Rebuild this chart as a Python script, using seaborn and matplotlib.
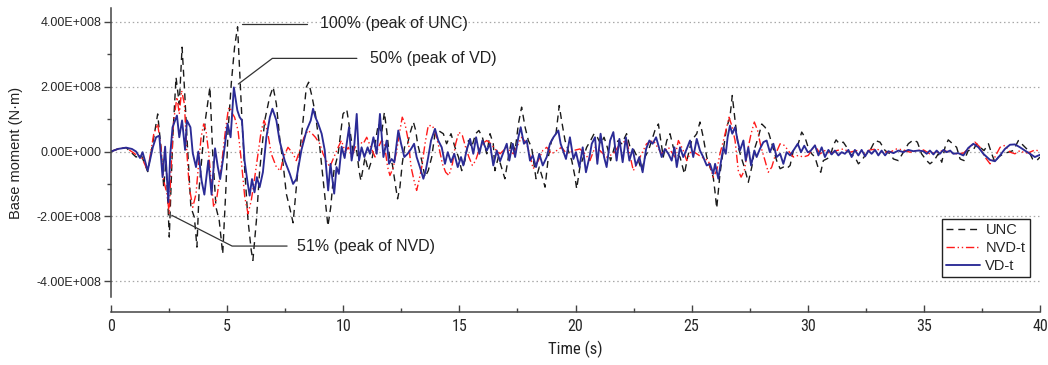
import matplotlib
matplotlib.use("Agg")
import numpy as np
import pandas as pd
import matplotlib.pyplot as plt
import seaborn as sns
from matplotlib.ticker import FuncFormatter, MultipleLocator
from matplotlib import font_manager

# ---------------- data (base moment in units of 1e8 N·m) ----------------
unc_t = [0.0, 0.3, 0.65, 1.08, 1.3, 1.58, 1.87, 2.01, 2.15, 2.27, 2.37, 2.51, 2.66, 2.8, 2.94, 3.06, 3.16, 3.27,
         3.44, 3.59, 3.7, 3.8, 3.95, 4.06, 4.16, 4.26, 4.38, 4.52, 4.66, 4.81, 4.95, 5.04, 5.18, 5.32, 5.45, 5.54,
         5.64, 5.76, 5.9, 6.04, 6.11, 6.26, 6.4, 6.62, 6.83, 6.98, 7.12, 7.26, 7.41, 7.55, 7.69, 7.84, 7.98, 8.12,
         8.27, 8.41, 8.51, 8.66, 8.8, 8.99, 9.2, 9.34, 9.46, 9.6, 9.78, 9.99, 10.15, 10.29, 10.43, 10.58, 10.68,
         10.76, 10.94, 11.08, 11.22, 11.37, 11.51, 11.65, 11.77, 11.87, 12.01, 12.11, 12.26, 12.34, 12.44, 12.54,
         12.66, 12.77, 12.87, 13.02, 13.12, 13.2, 13.38, 13.52, 13.66, 13.81, 13.95, 14.09, 14.31, 14.45, 14.64,
         14.81, 14.96, 15.1, 15.24, 15.39, 15.53, 15.7, 15.84, 15.99, 16.18, 16.32, 16.46, 16.53, 16.68, 16.82,
         16.96, 17.11, 17.25, 17.4, 17.54, 17.68, 17.83, 17.97, 18.11, 18.3, 18.44, 18.59, 18.69, 18.83, 18.97,
         19.16, 19.3, 19.4, 19.55, 19.69, 19.84, 19.98, 20.05, 20.19, 20.34, 20.48, 20.65, 20.8, 20.94, 21.08,
         21.23, 21.37, 21.51, 21.7, 21.84, 21.99, 22.2, 22.35, 22.49, 22.66, 22.85, 22.99, 23.14, 23.28, 23.42,
         23.57, 23.66, 23.78, 23.93, 24.07, 24.21, 24.36, 24.5, 24.69, 24.83, 25.0, 25.22, 25.36, 25.5, 25.65,
         25.79, 25.93, 26.0, 26.08, 26.22, 26.37, 26.51, 26.65, 26.75, 26.87, 27.01, 27.13, 27.27, 27.44, 27.59,
         27.73, 27.87, 28.02, 28.16, 28.33, 28.52, 28.66, 28.81, 28.95, 29.09, 29.24, 29.38, 29.59, 29.74, 29.88,
         30.03, 30.17, 30.31, 30.46, 30.56, 30.67, 30.81, 30.96, 31.1, 31.22, 31.36, 31.53, 31.68, 31.82, 32.03,
         32.18, 32.32, 32.47, 32.68, 32.9, 33.11, 33.33, 33.54, 33.69, 33.9, 34.12, 34.33, 34.55, 34.72, 34.9,
         35.12, 35.26, 35.44, 35.62, 35.77, 35.91, 36.05, 36.24, 36.41, 36.56, 36.73, 36.91, 37.13, 37.27, 37.42,
         37.59, 37.78, 37.92, 38.06, 38.21, 38.42, 38.64, 38.85, 39.07, 39.28, 39.5, 39.68, 39.86, 40.0]
unc_v = [0.0, 0.08, 0.12, -0.17, -0.1, -0.62, 0.55, 1.16, 0.13, -1.1, -0.28, -2.64, 0.44, 2.29, 1.46, 3.22, 1.99,
         0.44, -1.72, -2.03, -2.95, -1.1, 0.13, 0.96, 1.47, 1.99, -0.07, -1.72, -2.13, -3.16, -1.1, 0.65, 2.11, 3.22,
         3.85, 2.5, 0.96, -0.59, -2.13, -3.06, -3.36, -2.13, -0.59, 0.96, 1.68, 1.99, 1.47, 0.44, -0.38, -1.31,
         -1.72, -2.2, -1.1, -0.07, 0.96, 1.99, 2.14, 1.68, 1.16, 0.13, -1.31, -2.3, -1.72, -0.59, -0.07, 1.16, 1.3,
         0.65, -0.07, 0.03, -0.59, -0.9, -0.17, -0.59, -0.28, 0.24, 0.85, 0.55, 1.21, 0.65, -0.28, -0.38, -1.1,
         -1.46, -1.1, -0.38, 0.24, 0.24, 0.55, 0.91, 0.65, 0.24, -0.28, -0.79, -0.59, -0.17, 0.55, 0.65, 0.55,
         0.24, 0.55, 0.13, -0.17, -0.59, -0.28, 0.34, 0.13, 0.55, 0.65, 0.44, -0.07, 0.55, 0.24, -0.59, -0.17,
         -0.5, -0.84, -0.17, 0.34, 0.03, 0.85, 1.37, 0.75, 0.34, 0.13, -0.84, -0.48, -0.84, -1.1, -0.17, 0.34,
         0.55, 1.42, 0.96, 0.34, 0.03, -0.28, -0.79, -1.15, -0.48, -0.17, 0.13, 0.34, 0.55, 0.44, 0.24, 0.44,
         0.13, -0.28, 0.19, 0.34, 0.24, 0.55, 0.13, 0.08, -0.17, -0.59, -0.17, 0.03, 0.34, 0.65, 0.85, 0.39,
         -0.17, 0.34, 0.55, 0.13, -0.07, -0.17, -0.69, -0.17, 0.34, 0.55, 0.91, 0.44, -0.17, -0.48, -0.79, -1.2,
         -1.75, -0.69, 0.08, 0.75, 1.06, 1.73, 0.96, 0.13, -0.17, -0.48, -0.95, -0.48, 0.13, 0.44, 0.85, 0.75,
         0.55, 0.08, -0.28, -0.53, -0.48, -0.53, -0.43, 0.03, 0.24, 0.6, 0.44, 0.1, -0.07, -0.17, -0.53, -0.64,
         -0.28, -0.23, -0.17, 0.19, 0.36, 0.24, 0.29, 0.13, -0.07, -0.17, -0.38, -0.28, -0.12, 0.03, 0.34, 0.29,
         0.03, -0.07, -0.23, -0.28, -0.02, 0.24, 0.36, 0.29, -0.07, -0.28, -0.38, -0.28, -0.07, -0.33, 0.13, 0.36,
         0.24, 0.13, -0.23, -0.28, 0.03, 0.05, 0.24, 0.13, 0.03, 0.24, -0.07, -0.33, -0.17, -0.07, -0.02, 0.03,
         0.34, 0.19, 0.03, -0.23, -0.28, -0.17]

nvd_t = [0.0, 0.3, 0.65, 1.08, 1.3, 1.58, 1.84, 2.01, 2.15, 2.27, 2.41, 2.51, 2.58, 2.7, 2.84, 2.94, 3.04, 3.16,
         3.27, 3.37, 3.52, 3.66, 3.76, 3.88, 3.99, 4.09, 4.21, 4.31, 4.42, 4.56, 4.66, 4.78, 4.91, 5.05, 5.12,
         5.2, 5.32, 5.47, 5.61, 5.76, 5.9, 6.04, 6.19, 6.33, 6.47, 6.59, 6.73, 6.9, 7.12, 7.3, 7.41, 7.62, 7.84,
         7.98, 8.12, 8.31, 8.48, 8.66, 8.8, 8.99, 9.13, 9.27, 9.42, 9.6, 9.78, 9.92, 10.08, 10.22, 10.36, 10.51,
         10.72, 10.86, 11.01, 11.19, 11.37, 11.51, 11.65, 11.77, 11.91, 12.01, 12.16, 12.3, 12.44, 12.54, 12.66,
         12.8, 12.92, 13.05, 13.16, 13.26, 13.38, 13.52, 13.66, 13.84, 13.98, 14.12, 14.27, 14.41, 14.55, 14.7,
         14.84, 14.98, 15.13, 15.27, 15.41, 15.56, 15.7, 15.84, 15.99, 16.18, 16.36, 16.53, 16.75, 17.04, 17.32,
         17.68, 17.9, 18.18, 18.4, 18.59, 18.76, 18.97, 19.19, 19.4, 19.62, 19.91, 20.19, 20.41, 20.62, 20.84,
         21.05, 21.34, 21.63, 21.92, 22.2, 22.49, 22.78, 23.06, 23.35, 23.71, 24.0, 24.28, 24.43, 24.64, 24.79,
         25.0, 25.22, 25.43, 25.72, 25.93, 26.08, 26.22, 26.37, 26.51, 26.61, 26.75, 26.87, 27.01, 27.13, 27.27,
         27.41, 27.56, 27.7, 27.84, 27.99, 28.16, 28.3, 28.45, 28.62, 28.81, 28.99, 29.16, 29.38, 29.59, 29.81,
         30.02, 30.31, 30.53, 30.74, 30.96, 31.25, 31.53, 31.82, 32.11, 32.39, 32.68, 32.97, 33.25, 33.54, 33.83,
         34.12, 34.4, 34.69, 34.98, 35.26, 35.55, 35.84, 36.13, 36.41, 36.7, 36.99, 37.2, 37.42, 37.63, 37.85,
         38.06, 38.28, 38.49, 38.71, 38.92, 39.14, 39.35, 39.57, 39.78, 40.0]
nvd_v = [0.0, 0.08, 0.12, -0.1, -0.15, -0.59, 0.54, 0.85, 0.13, -0.9, -1.31, -1.93, -0.59, 0.96, 1.68, 1.16, 1.88,
         1.47, -0.07, -1.1, -1.72, -1.31, -0.48, 0.44, 0.85, 0.65, -0.07, -0.9, -1.72, -1.41, -0.9, -0.28, 0.55,
         1.3, 1.37, 1.2, 1.06, 0.65, -0.28, -1.41, -1.92, -1.51, -0.79, -0.07, 0.65, 0.96, 0.65, -0.07, -0.48,
         -0.6, -0.2, 0.13, -0.07, -0.28, 0.03, 0.44, 0.65, 0.55, 0.44, 0.24, -0.07, -0.28, -0.48, -0.17, 0.13,
         0.34, 0.0, 0.13, -0.17, 0.13, 0.29, 0.24, 0.44, 0.13, -0.17, 0.13, 0.34, 0.24, -0.48, -0.74, -0.48, 0.03,
         0.65, 1.06, 0.85, 0.34, -0.48, -0.9, -1.2, -0.9, -0.48, 0.24, 0.8, 0.8, 0.55, 0.13, -0.38, -0.64, -0.74,
         -0.38, 0.24, 0.6, 0.49, 0.13, -0.17, -0.43, -0.28, 0.03, 0.24, 0.34, 0.24, 0.08, -0.07, 0.13, -0.07, 0.44,
         0.24, -0.53, -0.28, 0.03, 0.13, -0.07, 0.03, 0.13, -0.07, 0.03, 0.08, -0.07, -0.28, 0.13, 0.03, -0.17,
         -0.07, 0.24, 0.34, -0.59, -0.17, 0.24, 0.34, -0.07, 0.13, -0.17, 0.34, 0.03, -0.28, 0.03, -0.07, -0.17,
         -0.28, -0.79, -0.59, -0.07, 0.34, 0.75, 1.06, 0.75, 0.34, -0.59, -0.79, -0.59, 0.03, 0.55, 0.91, 0.65,
         0.13, -0.28, -0.64, -0.48, -0.07, 0.24, 0.19, 0.03, -0.17, -0.12, -0.17, -0.12, 0.19, -0.07, 0.03, -0.07,
         0.03, 0.08, -0.02, 0.03, -0.07, 0.05, 0.08, -0.02, -0.02, 0.08, 0.05, -0.02, 0.03, 0.05, -0.07, -0.02,
         0.03, -0.02, -0.07, -0.05, 0.13, 0.29, 0.13, -0.17, -0.38, -0.17, 0.13, 0.19, -0.02, -0.07, 0.03, -0.05,
         -0.02, 0.05, 0.01]

vd_t = [0.0, 0.3, 0.65, 0.9, 1.08, 1.25, 1.36, 1.58, 1.8, 1.94, 2.08, 2.22, 2.33, 2.47, 2.55, 2.65, 2.84, 2.94,
        3.06, 3.19, 3.27, 3.42, 3.52, 3.66, 3.76, 3.9, 4.02, 4.19, 4.33, 4.48, 4.6, 4.7, 4.85, 5.02, 5.15, 5.29,
        5.44, 5.54, 5.64, 5.75, 5.87, 5.97, 6.07, 6.18, 6.28, 6.4, 6.54, 6.69, 6.84, 6.95, 7.12, 7.26, 7.48, 7.7,
        7.84, 7.98, 8.2, 8.42, 8.6, 8.7, 8.8, 8.92, 9.07, 9.2, 9.35, 9.45, 9.54, 9.61, 9.71, 9.81, 9.93, 10.06,
        10.25, 10.36, 10.48, 10.58, 10.68, 10.79, 10.91, 11.05, 11.15, 11.3, 11.44, 11.58, 11.73, 11.87, 11.97,
        12.08, 12.2, 12.37, 12.49, 12.63, 12.77, 12.92, 13.05, 13.16, 13.3, 13.45, 13.55, 13.66, 13.78, 13.95,
        14.09, 14.24, 14.38, 14.5, 14.64, 14.78, 14.93, 15.07, 15.17, 15.31, 15.46, 15.6, 15.72, 15.86, 15.99,
        16.18, 16.32, 16.46, 16.61, 16.75, 17.04, 17.15, 17.29, 17.4, 17.54, 17.64, 17.78, 17.9, 18.04, 18.16,
        18.3, 18.44, 18.59, 18.76, 18.9, 19.05, 19.26, 19.36, 19.59, 19.76, 19.91, 20.02, 20.17, 20.31, 20.45,
        20.6, 20.7, 20.84, 20.94, 21.08, 21.23, 21.34, 21.49, 21.63, 21.77, 21.89, 22.03, 22.17, 22.32, 22.46,
        22.6, 22.75, 22.89, 23.04, 23.18, 23.32, 23.47, 23.71, 23.85, 24.0, 24.14, 24.26, 24.36, 24.5, 24.64,
        24.79, 24.93, 25.07, 25.22, 25.36, 25.5, 25.65, 25.79, 25.93, 26.01, 26.15, 26.27, 26.37, 26.47, 26.55,
        26.65, 26.75, 26.87, 26.98, 27.08, 27.23, 27.33, 27.44, 27.56, 27.7, 27.8, 27.94, 28.09, 28.23, 28.37,
        28.52, 28.66, 28.81, 28.95, 29.09, 29.24, 29.38, 29.57, 29.71, 29.85, 30.0, 30.1, 30.31, 30.46, 30.6,
        30.74, 30.89, 31.03, 31.17, 31.32, 31.46, 31.6, 31.75, 31.89, 32.03, 32.18, 32.32, 32.47, 32.61, 32.75,
        32.9, 33.04, 33.18, 33.33, 33.47, 33.69, 33.9, 34.12, 34.33, 34.55, 34.76, 34.98, 35.12, 35.26, 35.41,
        35.55, 35.69, 35.84, 35.98, 36.13, 36.27, 36.48, 36.7, 36.91, 37.13, 37.35, 37.56, 37.85, 38.06, 38.28,
        38.49, 38.71, 38.92, 39.14, 39.35, 39.57, 39.78, 40.0]
vd_v = [0.0, 0.08, 0.12, 0.08, 0.0, -0.2, -0.02, -0.59, 0.13, 0.44, 0.49, -0.79, 0.15, -1.56, -0.1, 0.75, 1.11,
        0.44, 0.96, 0.05, 0.96, 0.75, -0.05, -0.48, 0.0, -0.9, -1.33, -0.28, -1.33, 0.1, -0.48, -0.85, -0.1, 0.86,
        0.44, 1.98, 1.27, 1.06, 0.96, -0.28, -0.9, -1.36, -0.85, -1.26, -0.79, -1.1, -0.64, 0.44, 1.06, 1.32,
        0.96, 0.33, -0.28, -0.69, -1.0, -0.85, 0.05, 0.65, 0.96, 1.32, 1.06, 0.86, 0.55, 0.05, -1.2, -0.38, -0.9,
        -1.3, -0.48, -0.69, 0.15, -0.2, 0.75, -0.28, 0.24, 1.16, -0.28, 0.13, -0.17, 0.13, -0.07, 0.44, -0.07,
        1.16, -0.17, 0.34, -0.38, -0.23, -0.33, 0.65, 0.24, -0.17, -0.07, 0.08, 0.24, -0.17, -0.48, -0.84, -0.59,
        -0.17, 0.34, 0.7, 0.34, 0.13, -0.38, -0.02, -0.33, -0.07, -0.48, -0.17, -0.43, 0.03, 0.39, -0.07, 0.44,
        -0.07, 0.34, 0.03, 0.24, -0.43, 0.03, -0.3, 0.24, -0.28, 0.24, -0.17, 0.44, 0.75, 0.24, 0.34, -0.28,
        -0.12, -0.48, -0.07, -0.43, -0.17, 0.24, 0.44, 0.65, 0.24, -0.23, 0.44, -0.23, -0.02, -0.48, 0.13, -0.64,
        -0.17, 0.24, 0.44, -0.38, 0.55, -0.17, -0.48, 0.34, 0.6, -0.28, 0.39, -0.33, 0.44, -0.28, 0.08, -0.43,
        -0.17, -0.64, 0.08, 0.34, 0.24, 0.44, -0.17, 0.08, -0.07, -0.28, 0.13, -0.48, 0.13, -0.17, 0.08, 0.34,
        -0.17, 0.39, 0.03, -0.17, -0.43, -0.38, -0.69, -0.38, -0.84, -0.28, 0.13, -0.07, 0.44, 0.8, 0.55, 0.75,
        0.34, 0.03, 0.34, -0.28, 0.13, -0.43, 0.03, -0.17, 0.08, 0.29, 0.34, -0.02, 0.24, -0.17, -0.07, -0.38,
        -0.02, -0.12, 0.03, 0.24, -0.02, 0.18, -0.02, 0.0, 0.19, -0.12, 0.13, -0.17, 0.05, -0.09, 0.03, -0.12,
        -0.02, -0.07, 0.05, -0.17, 0.05, -0.12, 0.05, -0.15, 0.03, -0.07, 0.05, -0.12, 0.03, -0.12, 0.01, -0.05,
        0.03, -0.02, 0.05, 0.01, 0.03, 0.01, -0.07, 0.03, -0.09, 0.03, -0.07, 0.05, -0.02, 0.03, -0.07, -0.05,
        -0.12, 0.11, 0.24, 0.13, -0.07, -0.26, -0.3, -0.12, 0.08, 0.21, 0.22, 0.13, 0.03, -0.07, -0.17, -0.1]

series_names = ["UNC", "NVD-t", "VD-t"]
y_ticks = [-4, -2, 0, 2, 4]
x_ticks = [0, 5, 10, 15, 20, 25, 30, 35, 40]
SCALE = 1e8

# ---------------- styling ----------------
sns.set_theme(style="white")
plt.rcParams["font.family"] = ["Liberation Sans", "DejaVu Sans"]
plt.rcParams["axes.unicode_minus"] = False

# a condensed face for the time axis, if one is installed
_names = {f.name for f in font_manager.fontManager.ttflist}
NARROW = None
for cand in ["Liberation Sans Narrow", "Arial Narrow", "DejaVu Sans Condensed", "Roboto Condensed",
             "Open Sans Condensed"]:
    if cand in _names:
        NARROW = cand
        break
narrow_kw = {"family": [NARROW, "Liberation Sans"]} if NARROW else {"family": ["Liberation Sans"]}
narrow_size = 11.5 if NARROW else 10

W, H = 1048, 365
fig = plt.figure(figsize=(W / 100, H / 100), dpi=100)
ax = fig.add_axes([111 / W, (H - 297) / H, (1040 - 111) / W, (297 - 8) / H])

frames = [
    pd.DataFrame({"t": unc_t, "m": np.array(unc_v) * SCALE}),
    pd.DataFrame({"t": nvd_t, "m": np.array(nvd_v) * SCALE}),
    pd.DataFrame({"t": vd_t, "m": np.array(vd_v) * SCALE}),
]
colors = ["#1a1a1a", "#ff1a1a", "#2b2b96"]
widths = [1.0, 1.0, 1.35]
dash_styles = [(5, 3.5), (6, 2, 1, 2, 1, 2), None]

for df, name, c, lw, ds in zip(frames, series_names, colors, widths, dash_styles):
    sns.lineplot(data=df, x="t", y="m", ax=ax, color=c, linewidth=lw, label=name,
                 estimator=None, sort=True)
    line = ax.lines[-1]
    if ds is not None:
        line.set_dashes(ds)

ax.set_xlim(0, 40)
ax.set_ylim(-4.49 * SCALE, 4.43 * SCALE)

ax.set_yticks([v * SCALE for v in y_ticks])
ax.yaxis.set_minor_locator(MultipleLocator(1e8))
ax.set_xticks(x_ticks)
ax.xaxis.set_minor_locator(MultipleLocator(2.5))
ax.yaxis.grid(True, linestyle=(0, (1.2, 2.2)), color="#a8a8a8", linewidth=0.9)
ax.xaxis.grid(False)


def sci_fmt(v, pos):
    if v == 0:
        return "0.00E+000"
    exp = int(np.floor(np.log10(abs(v))))
    mant = v / 10 ** exp
    return f"{mant:.2f}E{'+' if exp >= 0 else '-'}{abs(exp):03d}"


ax.yaxis.set_major_formatter(FuncFormatter(sci_fmt))

for s in ["top", "right"]:
    ax.spines[s].set_visible(False)
for s in ["left", "bottom"]:
    ax.spines[s].set_color("#444444")
    ax.spines[s].set_linewidth(1.1)
ax.spines["bottom"].set_position(("outward", 10.8))

ax.tick_params(axis="y", which="major", direction="out", length=5, width=1.0, color="#444444",
               labelsize=9, pad=2, left=True)
ax.tick_params(axis="y", which="minor", direction="out", length=3, width=1.0, color="#444444", left=True)
ax.tick_params(axis="x", which="major", direction="in", length=5, width=1.0, color="#444444",
               labelsize=narrow_size, pad=5, bottom=True)
ax.tick_params(axis="x", which="minor", direction="in", length=3, width=1.0, color="#444444", bottom=True)
for lab in ax.get_xticklabels():
    lab.set_family(narrow_kw["family"])

ax.set_xlabel("Time (s)", fontsize=narrow_size + 0.5, labelpad=5, color="#222222", **narrow_kw)
ax.set_ylabel("Base moment (N·m)", fontsize=10.5, labelpad=10, color="#222222")

# legend
handles, labels = ax.get_legend_handles_labels()
leg = ax.legend(handles, labels, loc="lower right", bbox_to_anchor=(0.989, 0.069), frameon=True,
                fancybox=False, edgecolor="#222222", framealpha=1, fontsize=10.5, handlelength=2.3,
                borderpad=0.3, labelspacing=0.25, handletextpad=0.4, borderaxespad=0)
leg.get_frame().set_linewidth(1.0)

# ---------------- annotations (anchored on the series peaks) ----------------
i_unc = int(np.argmax(unc_v))
i_vd = int(np.argmax(vd_v))
i_nvd = int(np.argmin(nvd_v))
ann_kw = dict(textcoords="offset pixels", ha="left", va="center", fontsize=11.5, color="#222222")

ax.annotate("100% (peak of UNC)", xy=(unc_t[i_unc], unc_v[i_unc] * SCALE), xytext=(82, 3),
            arrowprops=dict(arrowstyle="-", color="#333333", lw=0.9, shrinkA=7, shrinkB=4,
                            relpos=(0, 0.5), connectionstyle="angle,angleA=0,angleB=90,rad=0"),
            **ann_kw)
ax.annotate("50% (peak of VD)", xy=(vd_t[i_vd], vd_v[i_vd] * SCALE), xytext=(136, 29),
            arrowprops=dict(arrowstyle="-", color="#333333", lw=0.9, shrinkA=7, shrinkB=4,
                            relpos=(0, 0.5), connectionstyle="angle,angleA=0,angleB=37,rad=0"),
            **ann_kw)
ax.annotate("51% (peak of NVD)", xy=(nvd_t[i_nvd], nvd_v[i_nvd] * SCALE), xytext=(128, -32),
            arrowprops=dict(arrowstyle="-", color="#333333", lw=0.9, shrinkA=5, shrinkB=2,
                            relpos=(0, 0.5), connectionstyle="angle,angleA=0,angleB=-27,rad=0"),
            **ann_kw)

fig.savefig("out.png", dpi=100)
